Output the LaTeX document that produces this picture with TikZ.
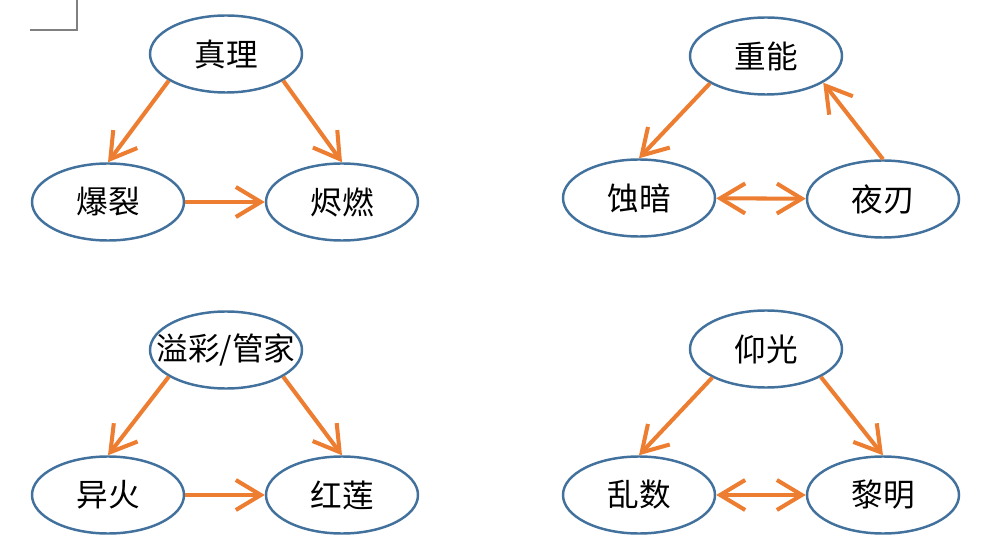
\documentclass[tikz,border=0pt]{standalone}
\usepackage{fontspec}
\newfontfamily\cjk{Noto Sans CJK SC}
\usepackage{tikz}
\usetikzlibrary{arrows.meta,shapes.geometric}
\definecolor{rim}{HTML}{41719C}
\definecolor{arr}{HTML}{ED7D31}
\tikzstyle{role} = [ellipse, draw=rim, line width=1.4pt, minimum width=3.04cm, minimum height=1.54cm, inner sep=0pt, font=\cjk\fontsize{18}{18}\selectfont]
\tikzstyle{beat} = [draw=arr, line width=2.3pt, -{Straight Barb[length=5mm,width=6mm]}]
\tikzstyle{both} = [beat, {Straight Barb[length=5mm,width=6mm]}-{Straight Barb[length=5mm,width=6mm]}]

\begin{document}
\begin{tikzpicture}[scale=1]
  \useasboundingbox (0,0) rectangle (19.66,-11.18);
  \draw[gray, line width=0.6pt] (0.6,-0.6) -- (1.54,-0.6) -- (1.54,0);
  % top left
  \node[role] (zl) at (4.52,-1.08) {真理};
  \node[role] (bl) at (2.16,-4.04) {爆裂};
  \node[role] (jr) at (6.84,-4.04) {烬燃};
  \draw[beat] (zl.205) -- (bl.north);
  \draw[beat] (zl.335) -- (jr.north);
  \draw[beat] (bl) -- (jr);
  % top right
  \node[role] (zn) at (15.32,-1.12) {重能};
  \node[role] (sa) at (12.78,-3.96) {蚀暗};
  \node[role] (yr) at (17.66,-3.98) {夜刃};
  \draw[beat] (zn.206) -- (sa.north);
  \draw[beat] (yr.north) -- (zn.335);
  \draw[both] (sa) -- (yr);
  % bottom left
  \node[role] (yc) at (4.52,-7.0) {\makebox[0pt]{溢彩/管家}};
  \node[role] (yh) at (2.16,-9.9) {异火};
  \node[role] (hl) at (6.84,-9.9) {红莲};
  \draw[beat] (yc.205) -- (yh.north);
  \draw[beat] (yc.335) -- (hl.north);
  \draw[beat] (yh) -- (hl);
  % bottom right
  \node[role] (yg) at (15.32,-6.98) {仰光};
  \node[role] (ls) at (12.78,-9.9) {乱数};
  \node[role] (lm) at (17.66,-9.9) {黎明};
  \draw[beat] (yg.208) -- (ls.north);
  \draw[beat] (yg.333) -- (lm.north);
  \draw[both] (ls) -- (lm);
\end{tikzpicture}
\end{document}
